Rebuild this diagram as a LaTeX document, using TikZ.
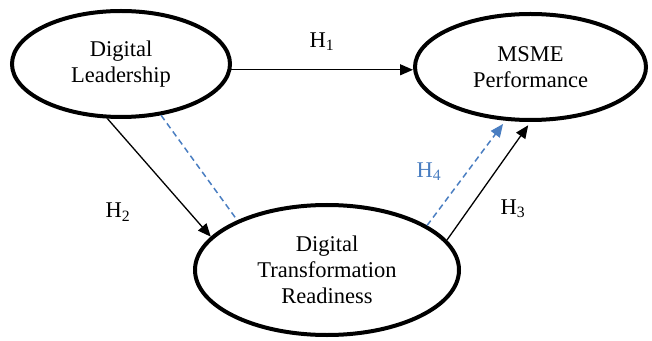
\documentclass[tikz,border=0pt]{standalone}
\usepackage{fontspec}
\setmainfont{Liberation Serif}
\usetikzlibrary{arrows.meta,shapes.geometric}
\definecolor{hblue}{RGB}{74,126,193}
\begin{document}
\begin{tikzpicture}[x=1pt,y=1pt,
  var/.style={ellipse, draw, line width=4pt, inner sep=0pt, align=center,
    font=\fontsize{22.5}{26}\selectfont},
  lbl/.style={font=\fontsize{22.5}{26}\selectfont, inner sep=0pt},
  arr/.style={line width=1.3pt, -{Triangle[length=13pt,width=11pt]}},
  dashlink/.style={line width=1.5pt, draw=hblue, dash pattern=on 6pt off 4pt},
  bluetip/.style={-{Triangle[length=13pt,width=11pt]}}
]
\useasboundingbox (0,0) rectangle (652,340);
\node[var, minimum width=218pt, minimum height=106pt] (A) at (121,276) {Digital\\Leadership};
\node[var, minimum width=231pt, minimum height=106pt] (B) at (530.5,273) {MSME\\Performance};
\node[var, minimum width=264pt, minimum height=130pt] (C) at (327,70) {Digital\\Transformation\\Readiness};

\draw[arr] (A.-3) -- (A.-3 -| B.west);
\draw[arr] (A.-104) -- (C.164);
\draw[dashlink] (A.-52) -- (C.151.5);
\draw[dashlink, bluetip, shorten >=4pt] (C.24) -- (B.-115);
\draw[arr, shorten >=4pt] (C.14) -- (B.-90);

\node[lbl] (h1) at (322,298) {H\textsubscript{1}};
\node[lbl] (h2) at (118,128) {H\textsubscript{2}};
\node[lbl] (h3) at (513,131) {H\textsubscript{3}};
\node[lbl, text=hblue] (h4) at (429,168) {H\textsubscript{4}};
\end{tikzpicture}
\end{document}
